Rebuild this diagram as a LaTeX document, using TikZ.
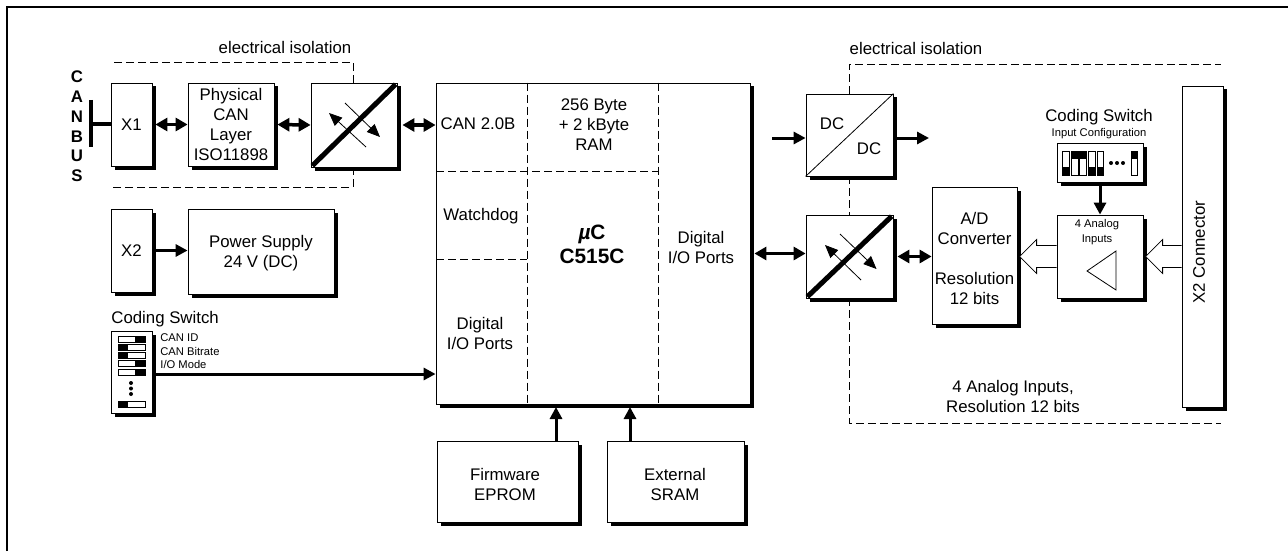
\documentclass[tikz,border=0pt]{standalone}
\usepackage{fontspec}
\setmainfont{Liberation Sans}
\usetikzlibrary{arrows.meta,shadows}
\tikzset{
  txt/.style={inner sep=0pt, align=center, font=\fontsize{8.4}{10}\selectfont},
  tiny label/.style={inner sep=0pt, align=left, font=\fontsize{5.6}{6.5}\selectfont},
  bold label/.style={inner sep=0pt, align=center, font=\fontsize{10.4}{12}\selectfont\bfseries},
  block/.style 2 args={txt, draw, fill=white, line width=0.4pt, minimum width=#1*0.5pt, minimum height=#2*0.5pt,
    drop shadow={shadow xshift=1.75pt, shadow yshift=-1.75pt, opacity=1, fill=black}},
  bigarrow/.style={line width=1.5pt, -{Triangle[length=6pt,width=6pt]}},
  dblarrow/.style={line width=1.75pt, {Triangle[length=6pt,width=6.5pt]}-{Triangle[length=6pt,width=6.5pt]}},
  thinarrow/.style={line width=0.4pt, -{Triangle[length=6.5pt,width=5.5pt]}},
  isoline/.style={dash pattern=on 4pt off 2pt, line width=0.4pt},
  hollow/.style={line width=0.4pt, fill=white},
  barrier/.style={line width=2.5pt, shorten <=1.2pt, shorten >=1.2pt}
}
\begin{document}
\begin{tikzpicture}[x=0.5pt, y=-0.5pt]
    \useasboundingbox (0,0) rectangle (1288,551);
    \draw[line width=1pt] (7,551) -- (7,7) -- (1288,7);

    % Isolation borders
    \draw[isoline] (353,83) -- (353,62) -- (111,62);
    \draw[isoline] (353,167) -- (353,187) -- (111,187);
    \draw[isoline] (849,94) -- (849,64) -- (1221,64);
    \draw[isoline] (849,176) -- (849,215);
    \draw[isoline] (849,298) -- (849,423) -- (1221,423);
    \node[txt] (isolabel1) at (285,47) {electrical isolation};
    \node[txt] (isolabel2) at (916,48) {electrical isolation};

    % Blocks
    \node[block={41}{83}] (x1) at (131.5,124.5) {X1};
    \node[block={86}{83}] (phy) at (231,124.5) {Physical\\CAN\\Layer\\ISO11898};
    \node[block={86}{84}] (iso1) at (354,125) {};
    \node[block={41}{83}] (x2) at (131.5,250.5) {X2};
    \node[block={146}{85}] (psu) at (261,251.5) {};
    \node[block={41}{82}] (sw1) at (131.5,372) {};
    \node[block={314}{321}] (main) at (593,243.5) {};
    \node[block={141}{81}] (fw) at (507.5,481.5) {};
    \node[block={137}{81}] (sram) at (675.5,481.5) {};
    \node[block={87}{82}] (dc) at (849.5,135) {};
    \node[block={87}{83}] (iso2) at (849.5,256.5) {};
    \node[block={85}{137}] (adc) at (974.5,255.5) {};
    \node[block={86}{83}] (ain) at (1100,256.5) {};
    \node[block={86}{39}] (sw2) at (1100,162.5) {};
    \node[block={41}{321}] (x2con) at (1202.5,246.5) {};
    \node[txt, rotate=90] (x2label) at (1199,252) {X2 Connector};
    \node[txt] (psutext) at (261,253) {Power Supply\\24 V (DC)};
    \node[txt] (fwtext) at (505,484) {Firmware\\EPROM};
    \node[txt] (sramtext) at (675,484) {External\\SRAM};
    \node[txt] (adctext) at (974.5,258.5) {A/D\\Converter\\ \\Resolution\\12 bits};

    % Bus bar
    \coordinate (canbar) at (91,124);
    \draw[line width=2pt] ([shift={(0,-24)}]canbar) -- ([shift={(0,23)}]canbar);
    \draw[line width=2pt] (canbar) -- (canbar -| x1.west);
    \node[txt, font=\fontsize{8.4}{9.9}\selectfont\bfseries] (canbus) at (77,126.5) {C\\A\\N\\B\\U\\S};

    % Inner partition of the controller
    \coordinate (part1) at (527,0);
    \coordinate (part2) at (658,0);
    \draw[isoline] (main.north -| part1) -- (main.south -| part1);
    \draw[isoline] (main.north -| part2) -- (main.south -| part2);
    \draw[isoline] (436,171) -- (658,171);
    \draw[isoline] (436,259) -- (527,259);
    \node[txt] (canctl) at (478,124) {CAN 2.0B};
    \node[txt] (ram) at (594,125) {256 Byte\\+ 2 kByte\\RAM};
    \node[txt] (wdog) at (481,216) {Watchdog};
    \node[txt] (diol) at (480,333) {Digital\\I/O Ports};
    \node[bold label] (cpu) at (592,244) {{\itshape µ}C\\C515C};
    \node[txt] (dior) at (701,247.5) {Digital\\I/O Ports};

    % Isolators
    \draw[barrier] (iso1.south west) -- (iso1.north east);
    \draw[thinarrow] ([shift={(-9,-22)}]iso1.center) -- ([shift={(26,12)}]iso1.center);
    \draw[thinarrow] ([shift={(12,22)}]iso1.center) -- ([shift={(-25,-12)}]iso1.center);
    \draw[barrier] (iso2.south west) -- (iso2.north east);
    \draw[thinarrow] ([shift={(-9.5,-22.5)}]iso2.center) -- ([shift={(27,12.5)}]iso2.center);
    \draw[thinarrow] ([shift={(11.5,23.5)}]iso2.center) -- ([shift={(-24.5,-11.5)}]iso2.center);

    % DC/DC converter
    \draw[line width=0.4pt] (dc.south west) -- (dc.north east);
    \node[txt] (dcin) at (832,124) {DC};
    \node[txt] (dcout) at (869,149) {DC};
    \coordinate (pwrin) at (772,138);
    \coordinate (pwrout) at (929,138);

    % Coding switch, left
    \node[txt, anchor=west] (sw1label) at (111,319) {Coding Switch};
    \draw[line width=0.3pt] (118,336) rectangle (145,342); \fill (135,336) rectangle (145,342);
    \draw[line width=0.3pt] (118,344) rectangle (145,350); \fill (118,344) rectangle (128,350);
    \draw[line width=0.3pt] (118,352) rectangle (145,358); \fill (118,352) rectangle (128,358);
    \draw[line width=0.3pt] (118,360) rectangle (145,366); \fill (135,360) rectangle (145,366);
    \draw[line width=0.3pt] (118,369) rectangle (145,375); \fill (135,369) rectangle (145,375);
    \draw[line width=0.3pt] (118,401) rectangle (145,407); \fill (118,401) rectangle (128,407);
    \fill (131,383) circle (2) (131,388.5) circle (2) (131,394) circle (2);
    \node[tiny label, anchor=west] (swid) at (160,338) {CAN ID};
    \node[tiny label, anchor=west] (swrate) at (160,351) {CAN Bitrate};
    \node[tiny label, anchor=west] (swmode) at (160,364) {I/O Mode};
    \coordinate (swout) at (152,374);

    % Coding switch, right
    \node[txt] (sw2label) at (1099,117) {Coding Switch};
    \node[tiny label] (sw2sub) at (1099,134) {Input Configuration};
    \draw[line width=0.3pt] (1062,151) rectangle (1069,175); \fill (1062,167) rectangle (1069,175);
    \draw[line width=0.3pt] (1071,151) rectangle (1078,175); \fill (1071,151) rectangle (1078,159);
    \draw[line width=0.3pt] (1079,151) rectangle (1086,175); \fill (1079,151) rectangle (1086,159);
    \draw[line width=0.3pt] (1088,151) rectangle (1095,175); \fill (1088,167) rectangle (1095,175);
    \draw[line width=0.3pt] (1097,151) rectangle (1103,175); \fill (1097,167) rectangle (1103,175);
    \draw[line width=0.3pt] (1131,151) rectangle (1137,175); \fill (1131,151) rectangle (1137,159);
    \fill (1111,163) circle (2) (1117,163) circle (2) (1123,163) circle (2);

    % Analog inputs
    \node[tiny label, align=center] (ainlabel) at (1097,232.5) {4 Analog\\[1pt]Inputs};
    \draw[line width=0.4pt] (1087,271) -- (1116,251) -- (1116,290) -- cycle;
    \node[txt] (ainnote) at (1013,396.5) {4 Analog Inputs,\\Resolution 12 bits};

    % Hollow arrows
    \draw[hollow] ([shift={(0,-11)}]ain.west) -- ++(-20,0) -- ++(0,-6) -- ++(-17,17) -- ++(17,17) -- ++(0,-6) -- ([shift={(0,11)}]ain.west);
    \draw[hollow] ([shift={(0,-11)}]x2con.west |- ain.west) -- ++(-19,0) -- ++(0,-6) -- ++(-17,17) -- ++(17,17) -- ++(0,-6) -- ([shift={(0,11)}]x2con.west |- ain.west);

    % Arrows
    \draw[dblarrow, shorten <=1.5pt] (x1.east) -- (phy.west);
    \draw[dblarrow, shorten <=1.5pt] (phy.east) -- (iso1.west);
    \draw[dblarrow, shorten <=2.5pt] (iso1.east) -- (iso1.east -| main.west);
    \draw[bigarrow] (x2.east) -- (x2.east -| psu.west);
    \draw[bigarrow] (swout) -- (swout -| main.west);
    \coordinate (fwup) at (556,407);
    \coordinate (sramup) at (630,407);
    \draw[bigarrow] (fw.north -| fwup) -- (fwup);
    \draw[bigarrow] (sram.north -| sramup) -- (sramup);
    \draw[bigarrow] (pwrin) -- (pwrin -| dc.west);
    \draw[bigarrow] (pwrin -| dc.east) -- (pwrout);
    \draw[dblarrow, shorten <=2pt] ([shift={(0,-3)}]iso2.west -| main.east) -- ([shift={(0,-3)}]iso2.west);
    \draw[dblarrow, shorten <=2pt] (iso2.east) -- (iso2.east -| adc.west);
    \draw[bigarrow] (sw2.south) -- (ain.north);
\end{tikzpicture}
\end{document}
